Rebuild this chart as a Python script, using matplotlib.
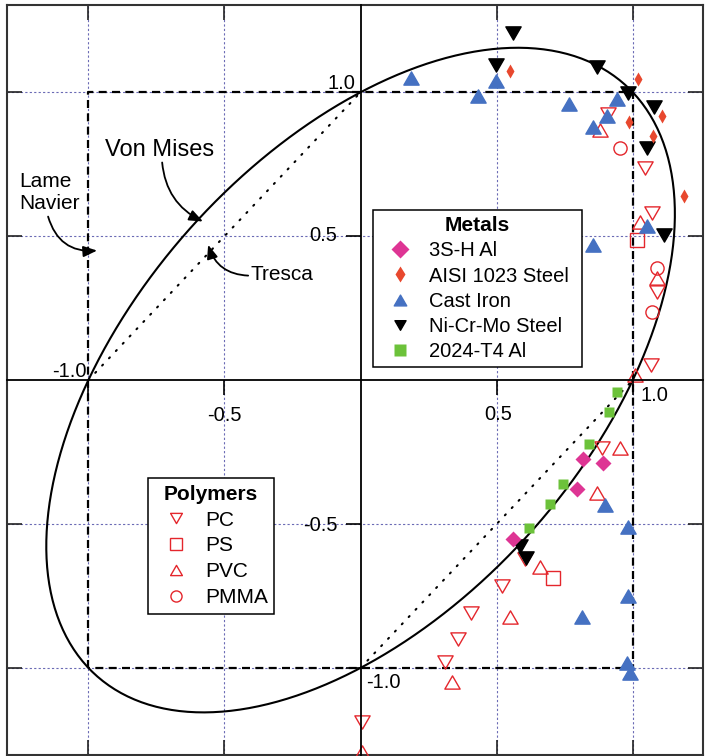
import numpy as np
import matplotlib
matplotlib.use('Agg')
import matplotlib.pyplot as plt
from matplotlib.lines import Line2D
from matplotlib.path import Path

plt.rcParams['font.family'] = ['Liberation Sans', 'DejaVu Sans']

# ---------------- data (normalised principal stresses) ----------------
ni_x = [0.560, 0.498, 0.869, 0.983, 1.078, 1.051, 1.115, 0.586, 0.608]
ni_y = [1.207, 1.096, 1.089, 0.999, 0.950, 0.805, 0.505, -0.575, -0.617]
ci_x = [0.186, 0.498, 0.432, 0.766, 0.942, 0.905, 0.854, 1.053, 0.854,
        0.898, 0.983, 0.983, 0.814, 0.979, 0.990]
ci_y = [1.051, 1.040, 0.988, 0.961, 0.978, 0.916, 0.881, 0.534, 0.468,
        -0.433, -0.509, -0.752, -0.822, -0.982, -1.017]
aisi_x = [0.549, 1.019, 1.108, 0.986, 1.075, 1.188]
aisi_y = [1.075, 1.047, 0.919, 0.895, 0.849, 0.641]
al3s_x = [0.817, 0.890, 0.795, 0.561]
al3s_y = [-0.273, -0.287, -0.377, -0.551]
t4_x = [0.942, 0.913, 0.840, 0.744, 0.696, 0.619]
t4_y = [-0.040, -0.110, -0.221, -0.360, -0.429, -0.513]
pc_x = [0.909, 1.045, 1.071, 1.089, 1.067, 0.887, 0.604, 0.520, 0.406,
        0.357, 0.310, 0.006]
pc_y = [0.926, 0.738, 0.582, 0.307, 0.054, -0.235, -0.620, -0.717, -0.811,
        -0.898, -0.978, -1.187]
ps_x = [1.015, 0.708]
ps_y = [0.488, -0.686]
pvc_x = [0.880, 1.027, 1.089, 1.009, 0.953, 0.868, 0.659, 0.549, 0.336, 0.005]
pvc_y = [0.870, 0.550, 0.356, 0.019, -0.235, -0.391, -0.648, -0.822, -1.048, -1.292]
pmma_x = [0.953, 1.089, 1.071]
pmma_y = [0.808, 0.391, 0.238]

# criteria
yield_strength = 1.0
lame_x = [-1, -1, 1, 1, -1]
lame_y = [-1, 1, 1, -1, -1]
tresca_seg1_x = [-1, 0]
tresca_seg1_y = [0, 1]
tresca_seg2_x = [0, 1]
tresca_seg2_y = [-1, 0]

ticks = [-1.0, -0.5, 0.5, 1.0]

# colours
BLUE = '#4571c2'
RED = '#e4262c'
AISI = '#e8482e'
MAG = '#de3594'
GREEN = '#6cc23a'

XLIM = (-1.299, 1.258)
YLIM = (-1.301, 1.305)

# ---------------- figure ----------------
fig = plt.figure(figsize=(7.05, 7.56), dpi=100)
pos = [7 / 705, 1.5 / 756, 696 / 705, 750 / 756]
ax = fig.add_axes(pos)
ax.set_xlim(*XLIM)
ax.set_ylim(*YLIM)
ax.set_xticks(ticks)
ax.set_yticks(ticks)
ax.tick_params(direction='in', length=10.8, width=1.2, top=True, right=True,
               labelbottom=False, labelleft=False, color='#222222')
for s in ax.spines.values():
    s.set_linewidth(1.5)
    s.set_color('#333333')
ax.grid(True, color='#6b6bb5', linewidth=0.8, linestyle=(0, (2, 2)))
ax.set_axisbelow(True)

# custom equilateral triangles
up_tri = Path([(-1, -0.866), (1, -0.866), (0, 0.866), (0, 0)], closed=True)
dn_tri = Path([(-1, 0.866), (1, 0.866), (0, -0.866), (0, 0)], closed=True)

# Lame-Navier box
ax.plot(lame_x, lame_y, color='black', lw=1.6, dashes=(3.6, 2.4), zorder=2)
# Tresca diagonal segments
for tx, ty in [(tresca_seg1_x, tresca_seg1_y), (tresca_seg2_x, tresca_seg2_y)]:
    ax.plot(tx, ty, color='black', lw=1.5, dashes=(0.6, 4.2),
            dash_capstyle='round', zorder=2)
# Von Mises ellipse: s1^2 - s1*s2 + s2^2 = Sy^2
t = np.linspace(0, 2 * np.pi, 400)
vm_x = yield_strength * (np.cos(t) + np.sin(t) / np.sqrt(3))
vm_y = yield_strength * (np.cos(t) - np.sin(t) / np.sqrt(3))
ax.plot(vm_x, vm_y, color='black', lw=1.5, zorder=3)

# polymers (open red)
ax.plot(pc_x, pc_y, ls='none', marker=dn_tri, ms=11, mfc='none', mec=RED, mew=1.0, zorder=4)
ax.plot(ps_x, ps_y, ls='none', marker='s', ms=9.5, mfc='none', mec=RED, mew=1.0, zorder=4)
ax.plot(pvc_x, pvc_y, ls='none', marker=up_tri, ms=11, mfc='none', mec=RED, mew=1.0, zorder=4)
ax.plot(pmma_x, pmma_y, ls='none', marker='o', ms=9.5, mfc='none', mec=RED, mew=1.0, zorder=4)

# metals
ax.plot(ci_x, ci_y, ls='none', marker=up_tri, ms=11, color=BLUE, mec=BLUE, zorder=5)
ax.plot(ni_x, ni_y, ls='none', marker=dn_tri, ms=11, color='black', zorder=5)
ax.plot(aisi_x, aisi_y, ls='none', marker='d', ms=7.5, color=AISI, mec='none', zorder=5)
ax.plot(al3s_x, al3s_y, ls='none', marker='D', ms=8.5, color=MAG, mec='none', zorder=5)
ax.plot(t4_x, t4_y, ls='none', marker='s', ms=6.5, color=GREEN, mec='none', zorder=5)

# central axes through origin
ax2 = fig.add_axes(pos)
ax2.set_xlim(*XLIM)
ax2.set_ylim(*YLIM)
ax2.patch.set_visible(False)
ax2.spines['top'].set_visible(False)
ax2.spines['right'].set_visible(False)
ax2.spines['left'].set_position(('data', 0))
ax2.spines['bottom'].set_position(('data', 0))
for s in ('left', 'bottom'):
    ax2.spines[s].set_linewidth(1.3)
    ax2.spines[s].set_color('black')
ax2.set_xticks(ticks)
ax2.set_yticks(ticks)
ax2.tick_params(direction='out', length=10.8, width=1.2, color='black',
                labelbottom=False, labelleft=False)

# tick labels
fs = 14.5
ax.text(-0.020, 1.030, '1.0', ha='right', va='center', fontsize=fs)
ax.text(-0.086, 0.502, '0.5', ha='right', va='center', fontsize=fs)
ax.text(-0.083, -0.506, '-0.5', ha='right', va='center', fontsize=fs)
ax.text(0.020, -1.051, '-1.0', ha='left', va='center', fontsize=fs)
ax.text(-1.008, 0.030, '-1.0', ha='right', va='center', fontsize=fs)
ax.text(-0.501, -0.123, '-0.5', ha='center', va='center', fontsize=fs)
ax.text(0.505, -0.120, '0.5', ha='center', va='center', fontsize=fs)
ax.text(1.027, -0.054, '1.0', ha='left', va='center', fontsize=fs)

# annotations
ax.text(-0.737, 0.801, 'Von Mises', ha='center', va='center', fontsize=17)
ax.text(-1.254, 0.652, 'Lame\nNavier', ha='left', va='center', fontsize=15,
        linespacing=1.25)
ax.text(-0.406, 0.367, 'Tresca', ha='left', va='center', fontsize=15)
arrow_kw = dict(arrowstyle='-|>,head_length=0.55,head_width=0.22', color='black',
                lw=1.3, shrinkA=0, shrinkB=0, mutation_scale=15)
ax.annotate('', xy=(-0.579, 0.551), xytext=(-0.729, 0.756),
            arrowprops=dict(connectionstyle='arc3,rad=0.28', **arrow_kw))
ax.annotate('', xy=(-0.968, 0.450), xytext=(-1.148, 0.568),
            arrowprops=dict(connectionstyle='arc3,rad=0.4', **arrow_kw))
ax.annotate('', xy=(-0.560, 0.470), xytext=(-0.413, 0.363),
            arrowprops=dict(connectionstyle='arc3,rad=-0.35', **arrow_kw))

# legends
metal_handles = [
    Line2D([], [], ls='none', marker='D', ms=9, color=MAG, mec='none', label='3S-H Al'),
    Line2D([], [], ls='none', marker='d', ms=8, color=AISI, mec='none', label='AISI 1023 Steel'),
    Line2D([], [], ls='none', marker=up_tri, ms=9, color=BLUE, label='Cast Iron'),
    Line2D([], [], ls='none', marker=dn_tri, ms=8, color='black', label='Ni-Cr-Mo Steel'),
    Line2D([], [], ls='none', marker='s', ms=8.5, color=GREEN, mec='none', label='2024-T4 Al'),
]
poly_handles = [
    Line2D([], [], ls='none', marker=dn_tri, ms=8.5, mfc='none', mec=RED, mew=1.0, label='PC'),
    Line2D([], [], ls='none', marker='s', ms=8, mfc='none', mec=RED, mew=1.0, label='PS'),
    Line2D([], [], ls='none', marker=up_tri, ms=8.5, mfc='none', mec=RED, mew=1.0, label='PVC'),
    Line2D([], [], ls='none', marker='o', ms=8, mfc='none', mec=RED, mew=1.0, label='PMMA'),
]
leg_kw = dict(loc='upper left', bbox_transform=fig.transFigure, mode='expand',
              title_fontproperties={'weight': 'bold', 'size': 15},
              frameon=True, fancybox=False, edgecolor='black', framealpha=1,
              borderaxespad=0, borderpad=0.32, handlelength=2.0,
              handletextpad=0.45)
leg1 = ax.legend(handles=metal_handles, title='Metals', fontsize=14.5,
                 labelspacing=0.3,
                 bbox_to_anchor=(373 / 705, 1 - 367 / 756, 209 / 705, 157 / 756),
                 **leg_kw)
leg1.get_frame().set_linewidth(1.1)
leg1.set_zorder(10)
ax.add_artist(leg1)
leg2 = ax.legend(handles=poly_handles, title='Polymers', fontsize=15,
                 labelspacing=0.33,
                 bbox_to_anchor=(148 / 705, 1 - 613 / 756, 126 / 705, 135 / 756),
                 **leg_kw)
leg2.get_frame().set_linewidth(1.1)
leg2.set_zorder(10)

fig.savefig('out.png', dpi=100)
